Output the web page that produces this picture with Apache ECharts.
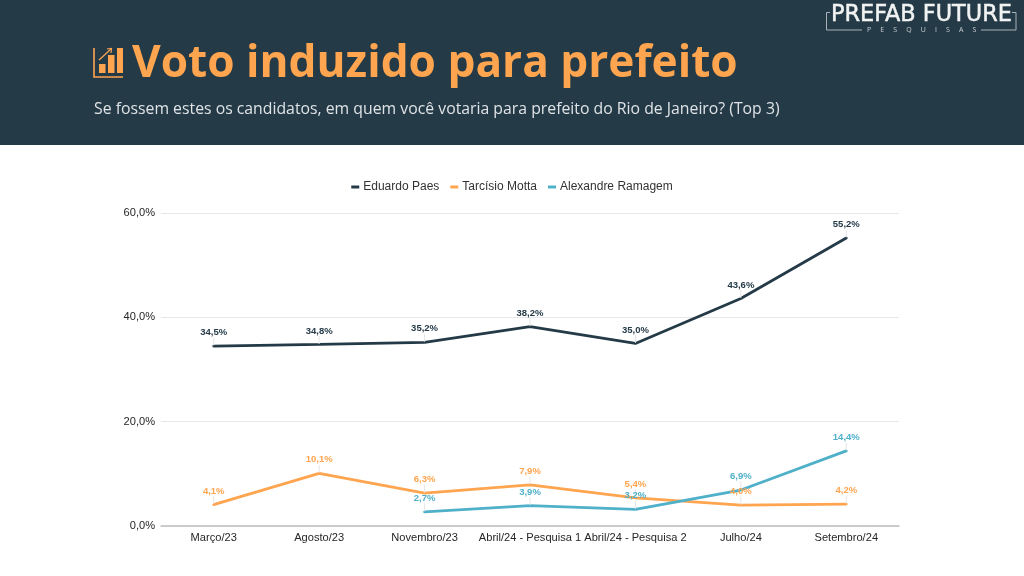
<!DOCTYPE html>
<html><head><meta charset="utf-8">
<style>html,body{margin:0;padding:0;background:#fff}#c{width:1024px;height:576px}</style>
<script src="https://cdn.jsdelivr.net/npm/echarts@6/dist/echarts.min.js"></script>
</head><body><div id="c"></div>
<script>
const categories = ['Março/23','Agosto/23','Novembro/23','Abril/24 - Pesquisa 1','Abril/24 - Pesquisa 2','Julho/24','Setembro/24'];
const paes = [34.5,34.8,35.2,38.2,35.0,43.6,55.2];
const tarcisio = [4.1,10.1,6.3,7.9,5.4,4.0,4.2];
const ramagem = [null,null,2.7,3.9,3.2,6.9,14.4];
const titleText = 'Voto induzido para prefeito';
const subtitleText = 'Se fossem estes os candidatos, em quem você votaria para prefeito do Rio de Janeiro? (Top 3)';
const NAVY='#243a47', ORANGE='#ffa44f', BLUE='#4fb0c9';
const fmt = v => v.toFixed(1).replace('.',',')+'%';
function mk(name,data,color){
  return {name,type:'line',data,symbol:'circle',symbolSize:1,showSymbol:true,smooth:false,connectNulls:false,
    lineStyle:{color,width:2.8,cap:'round'},itemStyle:{color},
    label:{show:true,position:'top',distance:1,color,fontSize:9.5,fontWeight:'bold',fontFamily:'Liberation Sans',
      formatter:p=>fmt(p.value)},
    labelLayout:{dy:-7},
    labelLine:{show:true,lineStyle:{color:'#e6e6e6',width:1}}};
}
const chart = echarts.init(document.getElementById('c'),null,{renderer:'canvas'});
const ic = '#ffa44f';
chart.setOption({
  animation:false,backgroundColor:'#fff',
  title:[
    {text:titleText,left:127,top:37,textStyle:{color:ORANGE,fontFamily:'Open Sans',fontWeight:700,fontSize:44.2}},
    {text:subtitleText,left:89,top:96,textStyle:{color:'#dfe3e6',fontFamily:'Open Sans',fontWeight:400,fontSize:15.8}}
  ],
  legend:{top:176,left:'center',itemWidth:8,itemHeight:3,itemGap:11,icon:'rect',
    textStyle:{color:'#333',fontFamily:'Liberation Sans',fontSize:12,padding:[0,0,0,-1]},
    data:['Eduardo Paes','Tarcísio Motta','Alexandre Ramagem']},
  grid:{left:161,right:125,top:213,bottom:50,containLabel:false},
  xAxis:{type:'category',data:categories,boundaryGap:true,
    axisLine:{lineStyle:{color:'#bdbdbd',width:1.5}},axisTick:{show:false},
    axisLabel:{color:'#262626',fontFamily:'Liberation Sans',fontSize:11.1,margin:6,interval:0}},
  yAxis:{type:'value',min:0,max:60,interval:20,
    axisLine:{show:false},axisTick:{show:false},
    axisLabel:{color:'#262626',fontFamily:'Liberation Sans',fontSize:11.1,margin:6,formatter:v=>fmt(v)},
    splitLine:{lineStyle:{color:'#e8e8e8',width:1}}},
  series:[mk('Eduardo Paes',paes,NAVY),mk('Tarcísio Motta',tarcisio,ORANGE),mk('Alexandre Ramagem',ramagem,BLUE)],
  graphic:{elements:[
    {type:'rect',z:-1,shape:{x:0,y:0,width:1024,height:145},style:{fill:NAVY}},
    {type:'polyline',z:1,shape:{points:[[94,48],[94,77],[123,77]]},style:{stroke:ic,lineWidth:1.6,fill:null}},
    {type:'rect',z:1,shape:{x:99,y:64,width:6.5,height:9},style:{fill:ic}},
    {type:'rect',z:1,shape:{x:108,y:55,width:6.5,height:18},style:{fill:ic}},
    {type:'rect',z:1,shape:{x:117,y:48,width:6,height:25},style:{fill:ic}},
    {type:'line',z:1,shape:{x1:99,y1:60,x2:111,y2:49},style:{stroke:ic,lineWidth:1.2}},
    {type:'polyline',z:1,shape:{points:[[107,49],[111.5,48.5],[111,53]]},style:{stroke:ic,lineWidth:1.2,fill:null}},
    {type:'text',z:1,style:{x:831,y:4,text:'PREFAB FUTURE',fill:'#f1f3f3',stroke:'#f1f3f3',lineWidth:0.5,font:'22.4px "DejaVu Sans"'}},
    {type:'text',z:1,style:{x:867,y:26,text:'P     E     S     Q     U     I     S     A     S',fill:'#c9cfd2',font:'7px "Open Sans"'}},
    {type:'polyline',z:1,shape:{points:[[830,12.5],[826.5,12.5],[826.5,30],[862,30]]},style:{stroke:'#aab2b6',lineWidth:1,fill:null}},
    {type:'polyline',z:1,shape:{points:[[1012,12.5],[1016,12.5],[1016,30],[981,30]]},style:{stroke:'#aab2b6',lineWidth:1,fill:null}}
  ]}
});
</script></body></html>
